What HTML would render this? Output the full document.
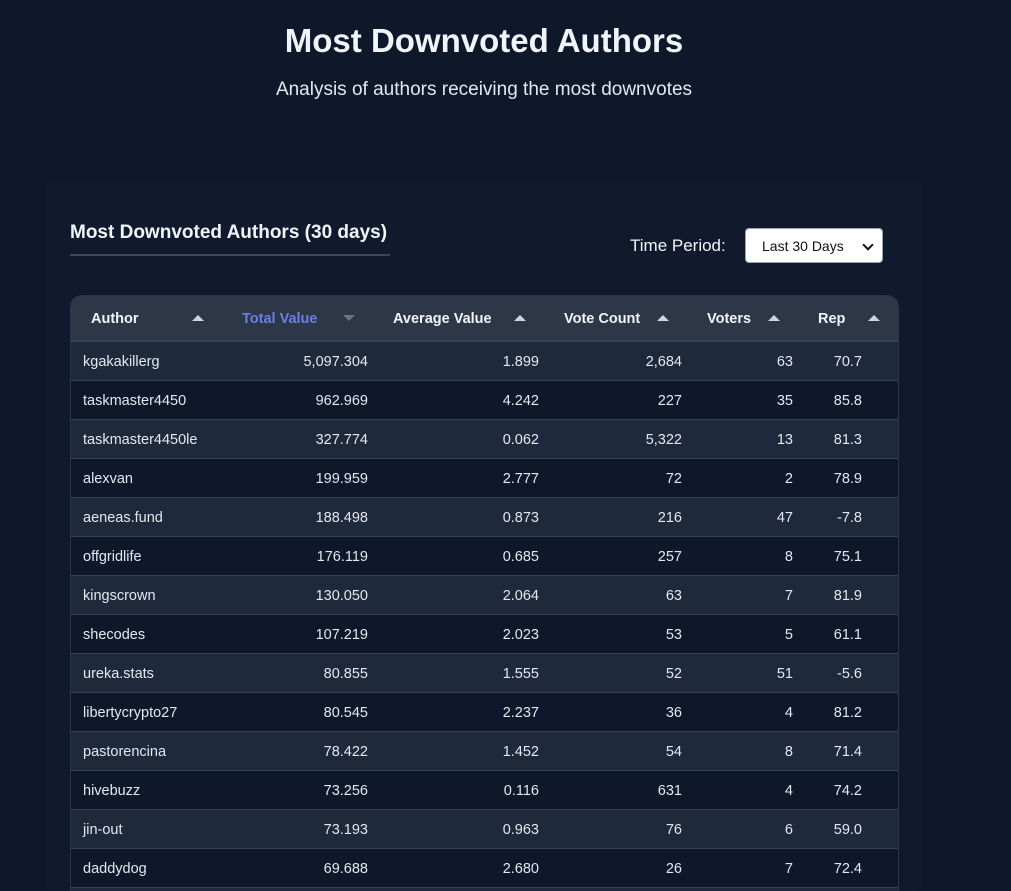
<!DOCTYPE html>
<html><head><meta charset="utf-8"><style>
*{margin:0;padding:0;box-sizing:border-box}
html,body{width:1011px;height:891px;overflow:hidden}
body{background:#0f172a;font-family:"Liberation Sans",sans-serif;color:#e2e8f0;position:relative}
h1{position:absolute;top:22px;left:0;width:968px;text-align:center;font-size:33px;font-weight:bold;color:#f1f5f9}
.sub{position:absolute;top:79px;left:0;width:968px;text-align:center;font-size:19px;color:#e2e8f0}
.card{position:absolute;left:45px;top:180px;width:877px;height:711px;background:#111a2d;border-radius:6px}
.ct{position:absolute;left:70px;top:222px;font-size:19px;font-weight:bold;color:#f1f5f9}
.ul{position:absolute;left:70px;top:254px;width:320px;height:2px;background:#3b475a}
.tp{position:absolute;left:630px;top:236px;font-size:17px;color:#f1f5f9}
.sel{position:absolute;left:745px;top:228px;width:138px;height:35px;background:#fff;border:1px solid #94a3b8;border-radius:4px;color:#111;font-size:14px;padding:9px 0 0 16px}
.sel:after{content:"";position:absolute;right:10px;top:12px;width:6px;height:6px;border-right:2px solid #111;border-bottom:2px solid #111;transform:rotate(45deg)}
.tbl{position:absolute;left:70px;top:295px;width:829px;height:596px;border-radius:12px 12px 0 0;overflow:hidden;border:1px solid #2a3547;border-bottom:none}
.hd{position:absolute;left:0;top:0;width:829px;height:46px;background:#2d3748;border-bottom:2px solid #334155}
.hd span{position:absolute;top:15px;font-size:14.5px;font-weight:bold;color:#f1f5f9}
.ar{position:absolute;top:19px;width:0;height:0;border-left:6px solid transparent;border-right:6px solid transparent;border-bottom:6px solid #cbd5e1}
.dn{border-bottom:none;border-top:6px solid #6b7280}
.r{position:absolute;left:0;width:829px;height:39px;border-bottom:1px solid #334155;font-size:14.5px;color:#e2e8f0}
.r span{position:absolute;top:12px}
.r .a{left:12px}
</style></head><body>
<h1>Most Downvoted Authors</h1>
<div class="sub">Analysis of authors receiving the most downvotes</div>
<div class="card"></div>
<div class="ct">Most Downvoted Authors (30 days)</div>
<div class="ul"></div>
<div class="tp">Time Period:</div>
<div class="sel">Last 30 Days</div>
<div class="tbl">
<div class="hd">
<span style="left:20px">Author</span><div class="ar" style="left:121px"></div>
<span style="left:171px;color:#6b7fe0">Total Value</span><div class="ar dn" style="left:272px"></div>
<span style="left:322px">Average Value</span><div class="ar" style="left:443px"></div>
<span style="left:493px">Vote Count</span><div class="ar" style="left:586px"></div>
<span style="left:636px">Voters</span><div class="ar" style="left:697px"></div>
<span style="left:747px">Rep</span><div class="ar" style="left:797px"></div>
</div>
<div id="rows"></div>
</div>
<script>
var d=[["kgakakillerg","5,097.304","1.899","2,684","63","70.7"],["taskmaster4450","962.969","4.242","227","35","85.8"],["taskmaster4450le","327.774","0.062","5,322","13","81.3"],["alexvan","199.959","2.777","72","2","78.9"],["aeneas.fund","188.498","0.873","216","47","-7.8"],["offgridlife","176.119","0.685","257","8","75.1"],["kingscrown","130.050","2.064","63","7","81.9"],["shecodes","107.219","2.023","53","5","61.1"],["ureka.stats","80.855","1.555","52","51","-5.6"],["libertycrypto27","80.545","2.237","36","4","81.2"],["pastorencina","78.422","1.452","54","8","71.4"],["hivebuzz","73.256","0.116","631","4","74.2"],["jin-out","73.193","0.963","76","6","59.0"],["daddydog","69.688","2.680","26","7","72.4"],["","","","","",""]];
var rr=[829-297,829-468,829-611,829-722,829-791];var h="";
d.forEach(function(x,i){h+='<div class="r" style="top:'+(46+39*i)+'px;background:'+(i%2?'#0f172a':'#1e293b')+'"><span class="a">'+x[0]+'</span>';for(var k=1;k<6;k++)h+='<span style="right:'+rr[k-1]+'px">'+x[k]+'</span>';h+='</div>';});
document.getElementById("rows").innerHTML=h;
</script>
</body></html>
